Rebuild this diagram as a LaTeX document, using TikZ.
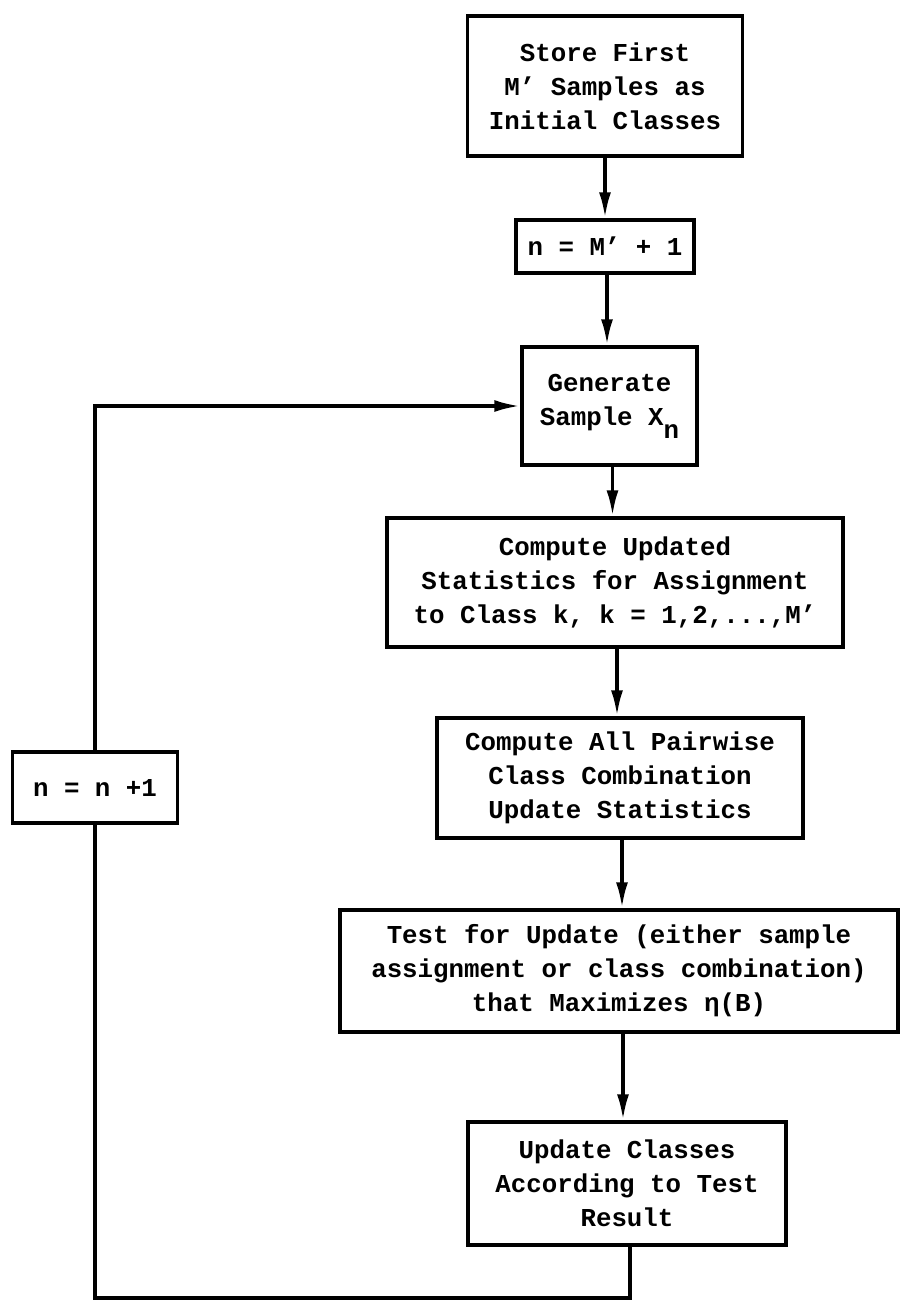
\documentclass[tikz,border=0pt]{standalone}
\usepackage{fontspec}
\setmainfont{Liberation Mono}
\usetikzlibrary{arrows.meta}
\tikzset{
  box/.style={draw, line width=3.5pt, rectangle, align=center, inner sep=0pt,
    font=\fontsize{25.8pt}{34pt}\selectfont\bfseries},
  line/.style={line width=3.5pt},
  arr/.style={line width=3.5pt, -{Latex[length=26pt,width=12pt]}}
}
\begin{document}
\begin{tikzpicture}[x=1pt,y=-1pt]
\useasboundingbox (0,0) rectangle (901,1310);
\node[box, minimum width=275pt, minimum height=140pt] (b1) at (605,86)
  {Store First\\M’ Samples as\\Initial Classes};
\node[box, minimum width=178pt, minimum height=53pt] (b2) at (605,246.5)
  {n = M’ + 1};
\node[box, minimum width=175pt, minimum height=118pt] (b3) at (609.5,406)
  {Generate\\Sample X\raisebox{-0.5em}{n}};
\node[box, minimum width=456pt, minimum height=129pt] (b4) at (615,582.5)
  {Compute Updated\\Statistics for Assignment\\to Class k, k = 1,2,...,M’};
\node[box, minimum width=366pt, minimum height=120pt] (b5) at (620,778)
  {Compute All Pairwise\\Class Combination\\Update Statistics};
\node[box, minimum width=558pt, minimum height=122pt] (b6) at (619,971)
  {Test for Update (either sample\\assignment or class combination)\\that Maximizes η(B)};
\node[box, minimum width=318pt, minimum height=123pt] (b7) at (627,1183.5)
  {Update Classes\\According to Test\\Result};
\node[box, minimum width=165pt, minimum height=71pt] (lp) at (95,787.5)
  {n = n +1};
\coordinate (cb) at (95,1298);
\coordinate (ct) at (95,406);
\draw[arr] (b1.south) -- (b1.south |- b2.north);
\draw[arr] ([xshift=2pt]b2.south) -- ([xshift=2pt]b2.south |- b3.north);
\draw[arr] ([xshift=3pt]b3.south) -- ([xshift=3pt]b3.south |- b4.north);
\draw[arr] ([xshift=2pt]b4.south) -- ([xshift=2pt]b4.south |- b5.north);
\draw[arr] ([xshift=2pt]b5.south) -- ([xshift=2pt]b5.south |- b6.north);
\draw[arr] ([xshift=4pt]b6.south) -- ([xshift=4pt]b6.south |- b7.north);
\draw[line] ([xshift=3pt]b7.south) -- ([xshift=3pt]b7.south |- cb) -- (cb) -- (lp.south);
\draw[arr] (lp.north) -- (ct) -- (b3.west);
\end{tikzpicture}
\end{document}
